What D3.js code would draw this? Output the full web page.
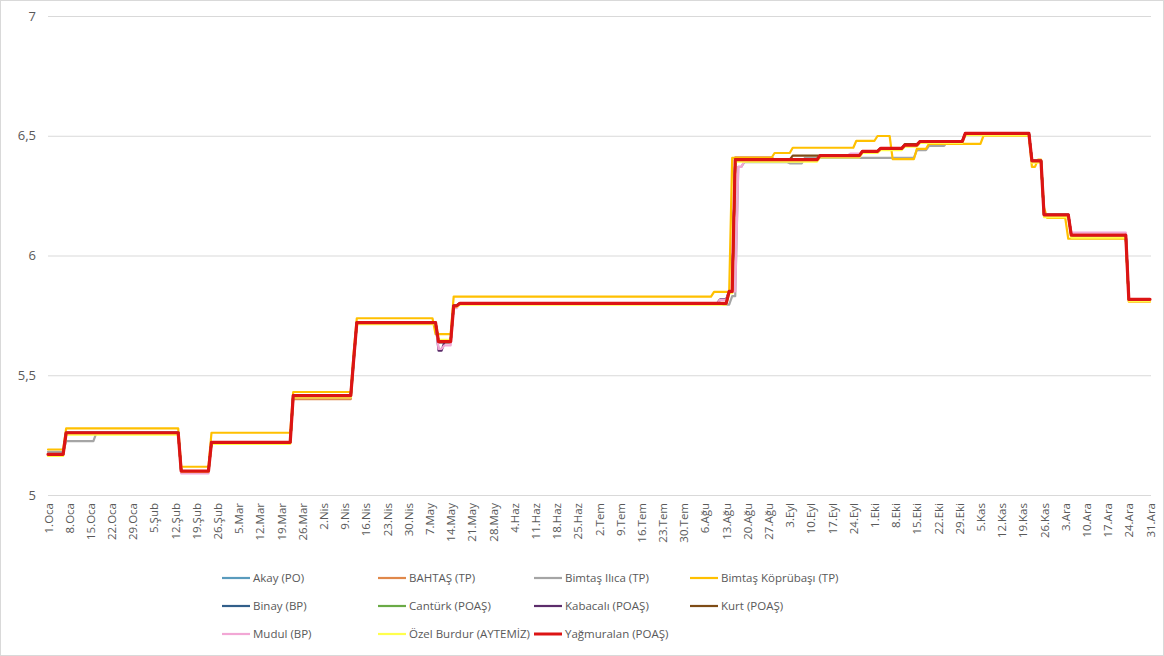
<!DOCTYPE html>
<html>
<head>
<meta charset="utf-8">
<script src="https://cdn.jsdelivr.net/npm/d3@7"></script>
<style>
	body { margin: 0; background: #fff; }
	svg { display: block; font-family: "Open Sans", "Liberation Sans", sans-serif; }
</style>
</head>
<body>
<svg id="chart" width="1164" height="656"></svg>
<script>
//series names, same order as the legend (last one is drawn on top)
var seriesNames = ['Akay (PO)', 'BAHTAŞ (TP)', 'Bimtaş Ilıca (TP)', 'Bimtaş Köprübaşı (TP)',
	'Binay (BP)', 'Cantürk (POAŞ)', 'Kabacalı (POAŞ)', 'Kurt (POAŞ)',
	'Mudul (BP)', 'Özel Burdur (AYTEMİZ)', 'Yağmuralan (POAŞ)'];

//price change points: [day of year (0 = 1 Oca), price from that day on]
var akay = [[0,5.17],[6,5.26],[44,5.10],[54,5.22],[81,5.415],[101,5.57],[102,5.72],[129,5.64],[134,5.79],[136,5.80],[225,5.85],[227,6.40],[255,6.417],[269,6.435],[275,6.447],[283,6.461],[288,6.476],[303,6.51],[325,6.395],[329,6.17],[338,6.085],[357,5.817]];
var bahtas = [[0,5.17],[6,5.26],[44,5.10],[54,5.22],[81,5.40],[101,5.56],[102,5.72],[129,5.64],[134,5.79],[136,5.80],[225,5.85],[227,6.41],[240,6.40],[255,6.417],[269,6.435],[275,6.447],[283,6.461],[288,6.476],[303,6.51],[325,6.395],[329,6.17],[338,6.085],[357,5.817]];
var bimtasIlica = [[0,5.18],[6,5.225],[16,5.26],[44,5.095],[54,5.22],[81,5.41],[101,5.56],[102,5.715],[129,5.635],[134,5.79],[136,5.80],[223,5.795],[226,5.83],[228,6.37],[230,6.39],[245,6.385],[250,6.408],[287,6.44],[291,6.458],[297,6.475],[303,6.505],[325,6.395],[329,6.17],[338,6.085],[357,5.817]];
var bimtasKoprubasi = [[0,5.19],[6,5.278],[44,5.118],[54,5.26],[81,5.43],[101,5.60],[102,5.738],[128,5.672],[134,5.828],[220,5.848],[226,6.408],[240,6.428],[246,6.45],[267,6.479],[274,6.499],[279,6.402],[287,6.445],[291,6.466],[309,6.50],[325,6.37],[327,6.40],[329,6.20],[330,6.157],[337,6.07],[357,5.807]];
var binay = [[0,5.17],[6,5.26],[44,5.10],[54,5.22],[81,5.415],[101,5.57],[102,5.72],[129,5.64],[134,5.79],[136,5.80],[222,5.815],[225,5.85],[227,6.40],[255,6.417],[269,6.435],[275,6.447],[283,6.461],[288,6.476],[303,6.51],[325,6.395],[329,6.17],[338,6.085],[357,5.817]];
var canturk = [[0,5.17],[6,5.26],[44,5.10],[54,5.22],[81,5.415],[101,5.57],[102,5.72],[129,5.64],[134,5.79],[136,5.80],[225,5.85],[227,6.40],[255,6.417],[269,6.435],[275,6.447],[283,6.461],[288,6.476],[303,6.51],[325,6.395],[329,6.17],[338,6.085],[357,5.817]];
var kabacali = [[0,5.17],[6,5.26],[44,5.10],[54,5.22],[81,5.415],[101,5.57],[102,5.72],[129,5.603],[131,5.64],[134,5.79],[136,5.80],[222,5.817],[225,5.85],[227,6.40],[255,6.417],[269,6.435],[275,6.447],[283,6.461],[288,6.476],[303,6.51],[325,6.395],[329,6.17],[338,6.085],[357,5.817]];
var kurt = [[0,5.17],[6,5.26],[44,5.10],[54,5.22],[81,5.415],[101,5.57],[102,5.72],[129,5.64],[134,5.79],[136,5.80],[225,5.85],[227,6.40],[246,6.417],[269,6.435],[275,6.447],[283,6.465],[288,6.476],[303,6.51],[325,6.395],[329,6.17],[338,6.085],[357,5.817]];
var mudul = [[0,5.17],[6,5.26],[44,5.09],[54,5.22],[81,5.415],[101,5.57],[102,5.72],[129,5.61],[131,5.625],[134,5.78],[136,5.80],[222,5.815],[225,5.85],[228,6.37],[230,6.395],[255,6.417],[265,6.425],[269,6.435],[275,6.447],[283,6.461],[288,6.476],[303,6.51],[325,6.395],[329,6.17],[338,6.096],[357,5.817]];
var ozelBurdur = [[0,5.163],[6,5.252],[44,5.098],[54,5.213],[81,5.408],[101,5.565],[102,5.713],[129,5.648],[134,5.785],[136,5.795],[225,5.843],[227,6.392],[255,6.41],[269,6.428],[275,6.44],[283,6.455],[288,6.47],[303,6.502],[325,6.388],[329,6.16],[338,6.075],[357,5.81]];
var yagmuralan = [[0,5.17],[6,5.26],[44,5.10],[54,5.22],[81,5.415],[101,5.57],[102,5.72],[129,5.64],[134,5.79],[136,5.80],[225,5.85],[227,6.40],[255,6.417],[269,6.435],[275,6.447],[283,6.461],[288,6.476],[303,6.51],[325,6.395],[329,6.17],[338,6.085],[357,5.817]];

var seriesData = [akay, bahtas, bimtasIlica, bimtasKoprubasi, binay, canturk,
	kabacali, kurt, mudul, ozelBurdur, yagmuralan];

//x tick days (every 7 days) and their labels
var tickDays = [0,7,14,21,28,35,42,49,56,63,70,77,84,91,98,105,112,119,126,133,140,147,154,161,168,175,182,189,196,203,210,217,224,231,238,245,252,259,266,273,280,287,294,301,308,315,322,329,336,343,350,357,364];
var tickLabels = ['1.Oca','8.Oca','15.Oca','22.Oca','29.Oca','5.Şub','12.Şub','19.Şub','26.Şub',
	'5.Mar','12.Mar','19.Mar','26.Mar','2.Nis','9.Nis','16.Nis','23.Nis','30.Nis',
	'7.May','14.May','21.May','28.May','4.Haz','11.Haz','18.Haz','25.Haz',
	'2.Tem','9.Tem','16.Tem','23.Tem','30.Tem','6.Ağu','13.Ağu','20.Ağu','27.Ağu',
	'3.Eyl','10.Eyl','17.Eyl','24.Eyl','1.Eki','8.Eki','15.Eki','22.Eki','29.Eki',
	'5.Kas','12.Kas','19.Kas','26.Kas','3.Ara','10.Ara','17.Ara','24.Ara','31.Ara'];
var yTicks = [5, 5.5, 6, 6.5, 7];

//styles
var colors = ['#5a9bbd', '#e0884a', '#a5a5a5', '#ffc000', '#325f8a', '#6aaa46',
	'#5c2d6b', '#7e4c16', '#f2a7d5', '#ffff4d', '#dc1414'];

//layout namespace
var fv = {
	'left': 48,
	'right': 1151,
	'top': 16,
	'bottom': 495,
	'lastDay': 364
};

var svg = d3.select('#chart');

//outer border
svg.append('rect')
	.attr('x', 0.5).attr('y', 0.5)
	.attr('width', 1163).attr('height', 655)
	.style('fill', '#fff')
	.style('stroke', '#d9d9d9');

//scales
var x = d3.scaleLinear().domain([0, fv.lastDay]).range([fv.left, 1150]);
var y = d3.scaleLinear().domain([5, 7]).range([fv.bottom, fv.top]);

var locale = d3.formatLocale({ decimal: ',', thousands: '.', grouping: [3], currency: ['', ''] });
var fmt = locale.format('~g');

//y axis with gridlines
var yAxis = svg.append('g')
	.attr('transform', 'translate(' + fv.left + ',0)')
	.call(d3.axisLeft(y).tickValues(yTicks).tickSize(-(fv.right - fv.left)).tickPadding(12).tickFormat(fmt));
yAxis.select('.domain').remove();
yAxis.selectAll('line').style('stroke', '#d9d9d9');
yAxis.selectAll('text')
	.style('fill', '#595959')
	.style('font-size', '13px')
	.style('font-family', '"Open Sans", sans-serif');

//x axis labels, rotated
var xAxis = svg.append('g')
	.attr('transform', 'translate(0,' + fv.bottom + ')')
	.call(d3.axisBottom(x).tickValues(tickDays).tickSize(0).tickFormat(function(d, i) { return tickLabels[i]; }));
xAxis.select('.domain').remove();
xAxis.selectAll('text')
	.attr('transform', 'rotate(-90)')
	.attr('x', -8)
	.attr('y', 0)
	.attr('dy', '0.35em')
	.style('text-anchor', 'end')
	.style('fill', '#595959')
	.style('font-size', '11.5px')
	.style('font-family', '"Open Sans", sans-serif');

//turn change points into line points (each price held until the day before the next change)
function toPoints(changes) {
	var pts = [];
	changes.forEach(function(c, i) {
		var end = i < changes.length - 1 ? changes[i + 1][0] - 1 : fv.lastDay;
		pts.push([c[0], c[1]]);
		if (end > c[0]) pts.push([end, c[1]]);
	});
	return pts;
}

var line = d3.line()
	.x(function(d) { return x(d[0]); })
	.y(function(d) { return y(d[1]); });

//draw lines
svg.append('g').attr('class', 'g-lines')
	.selectAll('path')
	.data(seriesData)
	.enter().append('path')
	.attr('d', function(d) { return line(toPoints(d)); })
	.style('fill', 'none')
	.style('stroke', function(d, i) { return colors[i]; })
	.style('stroke-width', function(d, i) { return i === seriesData.length - 1 ? 3.2 : 2.2; })
	.style('stroke-linejoin', 'round')
	.style('stroke-linecap', 'round');

//legend: 4 columns, 3 rows
var legend = svg.append('g').attr('class', 'legend')
	.selectAll('g')
	.data(seriesNames)
	.enter().append('g')
	.attr('transform', function(d, i) {
		return 'translate(' + (222 + (i % 4) * 156) + ',' + (578 + Math.floor(i / 4) * 28) + ')';
	});

legend.append('line')
	.attr('x1', 0).attr('x2', 28)
	.style('stroke', function(d, i) { return colors[i]; })
	.style('stroke-width', function(d, i) { return i === seriesNames.length - 1 ? 3 : 2.2; });

legend.append('text')
	.attr('x', 31)
	.attr('dy', '0.35em')
	.style('fill', '#595959')
	.style('font-size', '11.5px')
	.text(function(d) { return d; });
</script>
</body>
</html>
